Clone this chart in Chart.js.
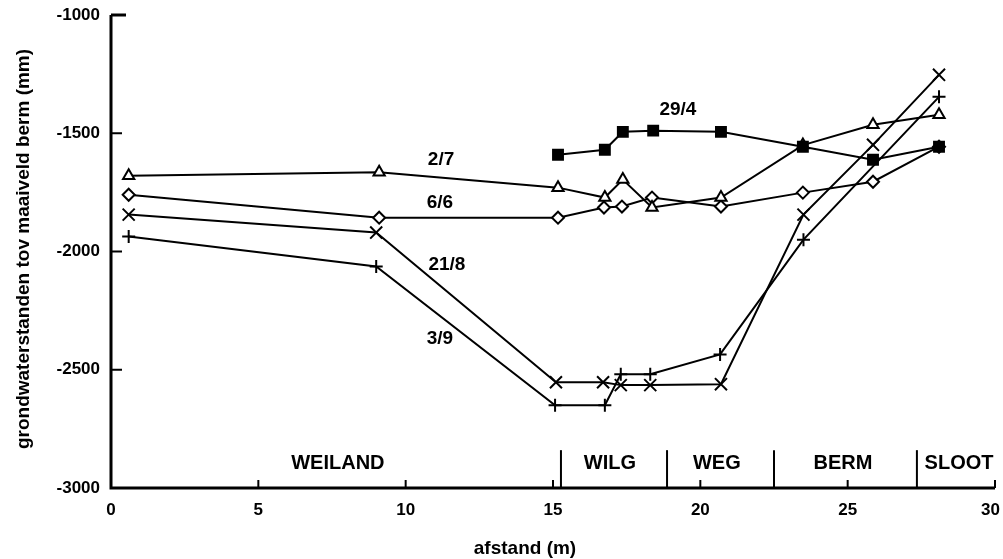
<!DOCTYPE html>
<html>
<head>
<meta charset="utf-8">
<script src="https://cdn.jsdelivr.net/npm/chart.js@4/dist/chart.umd.min.js"></script>
<style>
  html, body { margin: 0; padding: 0; background: #fff; }
  #wrap { width: 1003px; height: 559px; position: relative; }
</style>
</head>
<body>
<div id="wrap"><canvas id="c" width="1003" height="559"></canvas></div>
<script>
// Grondwaterstanden langs het dwarsprofiel (afstand in m, stand in mm t.o.v. maaiveld berm)
const seriesNames = ['29/4', '2/7', '6/6', '21/8', '3/9'];

const x29_4 = [15.17, 16.76, 17.37, 18.4, 20.7, 23.48, 25.86, 28.1];
const y29_4 = [-1591, -1570, -1494, -1489, -1494, -1557, -1612, -1557];

const x2_7 = [0.6, 9.1, 15.17, 16.76, 17.37, 18.36, 20.7, 23.48, 25.86, 28.1];
const y2_7 = [-1680, -1665, -1730, -1772, -1696, -1814, -1772, -1550, -1464, -1422];

const x6_6 = [0.6, 9.1, 15.17, 16.73, 17.34, 18.36, 20.7, 23.48, 25.86, 28.1];
const y6_6 = [-1760, -1857, -1857, -1814, -1810, -1772, -1810, -1751, -1705, -1557];

const x21_8 = [0.6, 9.0, 15.1, 16.7, 17.3, 18.3, 20.7, 23.5, 25.86, 28.1];
const y21_8 = [-1844, -1920, -2553, -2553, -2565, -2565, -2561, -1844, -1549, -1253];

const x3_9 = [0.6, 9.0, 15.07, 16.76, 17.3, 18.3, 20.67, 23.5, 28.1];
const y3_9 = [-1937, -2063, -2650, -2650, -2519, -2519, -2435, -1950, -1346];

// positions of the series labels (data units)
const labelX = [19.24, 11.2, 11.16, 11.4, 11.16];
const labelY = [-1401, -1612, -1793, -2055, -2371];

// terrain zones along the profile
const zoneBounds = [15.27, 18.87, 22.5, 27.35];
const zoneNames = ['WEILAND', 'WILG', 'WEG', 'BERM', 'SLOOT'];
const zoneCenters = [7.7, 16.93, 20.56, 24.84, 28.78];

const xTicks = [0, 5, 10, 15, 20, 25, 30];
const yTicks = [-1000, -1500, -2000, -2500, -3000];

const FONT = "'Liberation Sans', Arial, Helvetica, sans-serif";

// wanted plot frame on the canvas
const AREA = { left: 111, right: 995, top: 15, bottom: 488 };

function pts(xs, ys) { return xs.map((x, i) => ({ x: x, y: ys[i] })); }

function ds(label, data, style, radius, fill) {
  return {
    label: label,
    data: data,
    showLine: true,
    borderColor: '#000',
    borderWidth: 2,
    pointStyle: style,
    pointRadius: radius,
    pointBorderWidth: 2,
    pointBorderColor: '#000',
    pointBackgroundColor: fill,
    tension: 0,
    clip: false
  };
}

const decor = {
  id: 'decor',
  afterDatasetsDraw(chart) {
    const ctx = chart.ctx;
    const xs = chart.scales.x, ys = chart.scales.y;
    const a = chart.chartArea;
    ctx.save();
    ctx.strokeStyle = '#000';
    ctx.fillStyle = '#000';
    ctx.lineCap = 'butt';

    // axes
    ctx.lineWidth = 3;
    ctx.beginPath();
    ctx.moveTo(a.left, a.top);
    ctx.lineTo(a.left, a.bottom);
    ctx.lineTo(a.right, a.bottom);
    ctx.stroke();

    // inward ticks
    yTicks.forEach(v => {
      const py = ys.getPixelForValue(v);
      const len = v === -1000 ? 15 : 11;
      ctx.lineWidth = v === -1000 ? 3 : 2;
      ctx.beginPath();
      ctx.moveTo(a.left, py);
      ctx.lineTo(a.left + len, py);
      ctx.stroke();
    });
    ctx.lineWidth = 2;
    xTicks.forEach(v => {
      const px = xs.getPixelForValue(v);
      ctx.beginPath();
      ctx.moveTo(px, a.bottom);
      ctx.lineTo(px, a.bottom - 8);
      ctx.stroke();
    });

    ctx.textAlign = 'center';
    ctx.textBaseline = 'middle';

    // x tick labels, kept inside the canvas at the right edge
    ctx.font = 'bold 17px ' + FONT;
    xTicks.forEach(v => {
      const t = String(v);
      const half = ctx.measureText(t).width / 2;
      const px = Math.min(xs.getPixelForValue(v), chart.width - half - 3);
      ctx.fillText(t, px, a.bottom + 22);
    });

    // zone dividers
    const topDiv = ys.getPixelForValue(-2840);
    zoneBounds.forEach(v => {
      const px = xs.getPixelForValue(v);
      ctx.beginPath();
      ctx.moveTo(px, a.bottom);
      ctx.lineTo(px, topDiv);
      ctx.stroke();
    });

    // zone names
    ctx.font = 'bold 20px ' + FONT;
    const zy = ys.getPixelForValue(-2895);
    zoneNames.forEach((n, i) => {
      ctx.fillText(n, xs.getPixelForValue(zoneCenters[i]), zy);
    });

    // series labels
    ctx.font = 'bold 19px ' + FONT;
    seriesNames.forEach((n, i) => {
      ctx.fillText(n, xs.getPixelForValue(labelX[i]), ys.getPixelForValue(labelY[i]));
    });

    // axis titles
    ctx.font = 'bold 19px ' + FONT;
    ctx.fillText('afstand (m)', 525, 549);
    ctx.save();
    ctx.translate(24, 249);
    ctx.rotate(-Math.PI / 2);
    ctx.fillText('grondwaterstanden tov maaiveld berm (mm)', 0, 0);
    ctx.restore();

    ctx.restore();
  }
};

const pad = { left: 0, right: 8, top: 15, bottom: 0 };

const chart = new Chart(document.getElementById('c'), {
  type: 'scatter',
  data: {
    datasets: [
      ds('29/4', pts(x29_4, y29_4), 'rect', 7, '#000'),
      ds('2/7', pts(x2_7, y2_7), 'triangle', 6.5, '#fff'),
      ds('6/6', pts(x6_6, y6_6), 'rectRot', 6, '#fff'),
      ds('21/8', pts(x21_8, y21_8), 'crossRot', 8.5, '#fff'),
      ds('3/9', pts(x3_9, y3_9), 'cross', 6.5, '#fff')
    ]
  },
  options: {
    responsive: false,
    animation: false,
    events: [],
    layout: { autoPadding: false, padding: pad },
    plugins: { legend: { display: false }, tooltip: { enabled: false } },
    scales: {
      x: {
        type: 'linear',
        min: 0, max: 30,
        afterFit(s) { s.height = 71; s.paddingLeft = 0; s.paddingRight = 0; },
        afterBuildTicks(s) { s.ticks = xTicks.map(v => ({ value: v })); },
        grid: { display: false, drawTicks: false },
        border: { display: false },
        ticks: { display: false }
      },
      y: {
        type: 'linear',
        min: -3000, max: -1000,
        afterFit(s) { s.width = 111; s.paddingTop = 0; s.paddingBottom = 0; },
        afterBuildTicks(s) { s.ticks = yTicks.map(v => ({ value: v })); },
        grid: { display: false, drawTicks: false },
        border: { display: false },
        ticks: { color: '#000', font: { family: FONT, size: 17, weight: 'bold' }, padding: 11,
                 callback: v => String(v) }
      }
    }
  },
  plugins: [decor]
});

// nudge the layout padding until the plot frame sits where it should
for (let i = 0; i < 4; i++) {
  const a = chart.chartArea;
  const dR = a.right - AREA.right, dT = AREA.top - a.top, dB = a.bottom - AREA.bottom, dL = AREA.left - a.left;
  if (Math.abs(dR) < 0.5 && Math.abs(dT) < 0.5 && Math.abs(dB) < 0.5 && Math.abs(dL) < 0.5) break;
  pad.right += dR; pad.top += dT; pad.bottom += dB; pad.left += dL;
  chart.options.layout.padding = { left: pad.left, right: pad.right, top: pad.top, bottom: pad.bottom };
  chart.update();
}
</script>
</body>
</html>
